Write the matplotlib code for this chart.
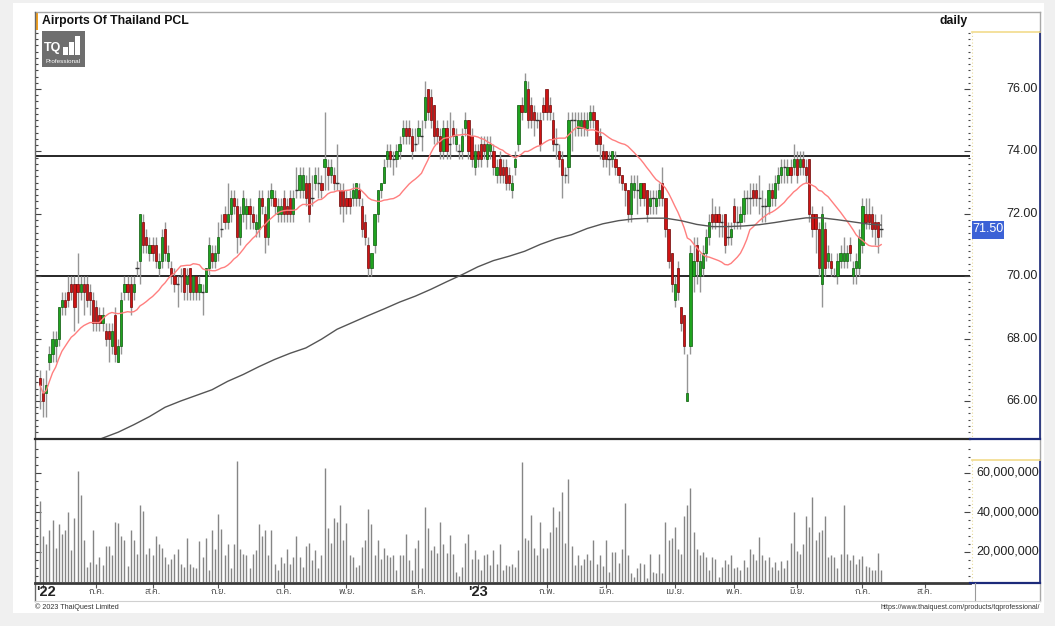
import numpy as np
import pandas as pd
import matplotlib
matplotlib.use("Agg")
import matplotlib.pyplot as plt
from matplotlib import font_manager
from matplotlib.ft2font import FT2Font
from matplotlib.patches import Rectangle
from matplotlib.lines import Line2D
from matplotlib.transforms import blended_transform_factory

# ---------------- data ----------------
title = "Airports Of Thailand PCL"
interval = "daily"
last_price = 71.50
support_level = 70.00
resistance_level = 73.85

opens = [
66.75,66.25,66.25,67.25,67.5,67.75,68.0,69.0,69.25,69.5,
69.75,69.75,69.75,69.5,69.75,69.75,69.5,69.25,69.0,68.75,
68.5,68.25,68.25,67.75,68.75,67.25,67.75,69.5,69.75,69.75,
69.5,70.25,70.5,71.75,71.25,70.75,71.0,71.0,70.25,70.5,
71.5,70.5,70.25,70.0,69.75,70.0,70.25,69.75,70.25,69.5,
70.0,69.5,69.5,69.5,70.25,70.75,70.5,70.75,71.5,72.0,
71.75,72.0,72.5,72.25,71.25,72.0,72.0,72.25,72.0,71.5,
71.5,72.5,72.0,71.25,72.5,72.5,72.0,72.0,72.5,72.25,
72.5,72.0,72.75,72.75,72.75,73.0,73.0,72.5,73.0,73.0,
73.0,73.5,73.5,73.25,73.25,73.0,72.75,72.75,72.5,72.5,
72.5,72.5,72.75,72.25,71.75,71.0,70.25,71.0,72.0,72.75,
73.0,73.75,74.0,73.75,73.75,74.0,74.5,74.75,74.75,74.5,
74.25,74.5,74.5,75.0,76.0,75.75,75.5,74.75,74.5,74.0,
74.75,74.25,74.75,74.25,74.0,74.0,74.75,75.0,74.5,73.5,
74.0,74.25,74.25,73.75,74.0,74.0,73.25,73.75,73.5,73.5,
73.25,72.75,73.5,74.25,75.5,75.25,76.0,75.5,75.25,75.0,
75.0,75.5,76.0,75.5,75.0,74.25,74.0,73.75,73.25,73.5,
75.0,75.0,74.75,74.75,75.0,74.75,75.0,75.25,75.0,74.5,
74.0,74.0,73.75,73.75,73.75,73.5,73.25,73.0,72.75,72.0,
72.75,72.75,72.5,73.0,72.75,72.25,72.5,72.25,72.5,73.0,
72.5,71.5,70.75,69.25,70.25,69.0,68.75,66.0,67.75,70.0,
71.0,70.0,70.25,70.75,71.25,72.0,72.0,72.0,71.75,72.0,
71.25,71.25,72.25,71.75,71.75,72.0,72.5,72.5,72.75,72.75,
72.5,72.25,72.25,72.25,72.75,72.5,73.0,73.25,73.5,73.25,
73.5,73.5,73.75,73.5,73.75,73.5,73.75,72.0,72.0,71.5,
69.75,71.5,70.5,70.5,70.0,70.0,70.5,70.5,70.5,71.0,
70.0,70.25,70.25,71.0,72.0,72.0,72.0,71.75,71.75,71.5]

closes = [
66.5,66.0,66.5,67.5,68.0,68.0,69.0,69.25,69.0,69.25,
69.5,69.0,69.5,69.75,69.5,69.25,69.25,68.5,68.5,68.5,
68.75,68.0,68.0,68.25,67.5,67.75,69.25,69.75,69.5,69.0,
69.75,70.25,72.0,71.0,71.0,71.0,70.75,70.5,70.5,71.25,
70.75,70.75,70.0,69.75,69.75,70.0,69.5,70.0,69.5,70.0,
69.5,69.75,69.5,70.25,71.0,70.5,70.75,71.25,71.5,71.75,
72.0,72.5,72.25,71.25,72.0,72.5,72.25,72.0,71.75,71.75,
72.5,72.25,71.25,72.5,72.75,72.25,72.25,72.25,72.0,72.0,
72.0,72.5,72.75,73.25,73.25,72.5,72.0,72.5,73.25,73.0,
72.75,73.75,73.25,73.5,73.0,73.0,72.25,72.25,72.25,72.25,
72.75,73.0,72.5,71.5,71.25,70.25,70.75,72.0,72.75,73.0,
73.5,74.0,73.75,73.75,74.0,74.25,74.75,74.5,74.5,74.0,
74.25,74.75,74.5,75.75,75.25,75.0,74.5,74.5,74.0,74.75,
74.0,74.25,74.5,74.5,74.0,74.5,75.0,74.0,73.75,74.0,
73.75,73.75,74.0,74.25,74.25,73.5,73.5,73.25,73.25,73.0,
73.0,73.0,73.75,75.5,75.25,76.25,75.0,75.0,75.0,75.0,
74.25,75.25,75.25,75.25,74.25,74.25,73.75,73.25,73.25,75.0,
75.0,75.0,75.0,75.0,74.75,75.0,75.25,75.0,74.25,74.25,
73.75,73.75,73.75,74.0,73.5,73.25,73.0,72.75,72.0,73.0,
73.0,72.75,73.0,72.5,72.0,72.5,72.5,72.5,72.75,72.5,
71.5,70.5,69.75,69.75,69.5,68.5,67.75,66.25,70.75,70.5,
70.5,70.5,70.75,71.25,71.75,71.75,71.75,71.75,71.75,71.0,
71.25,71.5,71.75,71.75,72.0,72.5,72.5,72.5,72.5,72.5,
72.5,72.25,72.25,72.75,72.5,73.0,73.25,73.5,73.5,73.5,
73.25,73.75,73.25,73.75,73.5,73.25,72.0,71.5,71.5,70.25,
72.0,70.25,70.75,70.25,70.0,70.5,70.75,70.75,70.75,70.75,
70.25,70.5,71.25,72.25,71.75,71.75,71.5,71.5,71.25,71.5]

highs = [
67.0,66.75,67.0,67.75,68.25,68.25,69.0,69.5,69.5,70.0,
70.0,70.0,70.75,70.0,70.0,70.0,69.75,69.5,69.25,69.0,
69.0,68.5,68.5,68.5,69.0,68.0,69.5,70.0,70.0,70.0,
70.0,70.5,72.0,72.0,71.5,71.25,71.25,71.25,70.75,71.5,
71.75,71.0,70.5,70.25,70.0,70.25,70.25,70.25,70.25,70.0,
70.0,70.0,69.75,70.25,71.25,71.0,71.0,71.75,72.0,72.25,
73.0,72.75,72.75,72.5,72.25,72.75,72.5,72.5,72.25,72.0,
72.75,72.75,72.25,72.75,73.0,72.75,72.5,72.5,72.75,72.5,
72.75,72.75,73.5,73.5,73.5,73.25,73.5,73.25,73.5,73.5,
73.25,75.25,73.75,73.75,73.5,74.25,73.0,73.0,72.75,72.75,
73.0,73.0,73.0,72.5,72.0,71.25,70.75,72.0,72.75,73.0,
73.75,74.25,74.25,74.0,74.25,74.5,75.0,75.0,75.0,74.75,
74.75,75.0,75.0,76.25,76.0,76.0,75.5,75.0,74.75,75.0,
75.0,75.25,75.0,74.75,74.25,74.75,75.25,75.0,74.75,74.25,
74.25,74.5,74.5,74.5,74.5,74.25,73.75,74.0,73.75,73.75,
73.5,73.25,74.0,75.5,75.75,76.5,76.25,75.75,75.5,75.25,
75.25,75.75,76.0,75.75,75.25,74.75,74.25,74.0,73.5,75.25,
75.25,75.25,75.25,75.25,75.25,75.25,75.5,75.5,75.0,74.75,
74.25,74.0,74.0,74.0,74.0,73.5,73.25,73.0,72.75,73.25,
73.25,73.25,73.0,73.0,72.75,72.75,72.75,72.75,73.0,73.5,
72.5,71.5,70.75,70.0,70.5,69.0,68.75,67.5,71.0,71.25,
71.25,70.75,71.0,71.5,72.0,72.5,72.25,72.25,72.0,72.0,
71.75,71.75,72.5,72.25,72.25,72.75,72.75,73.0,73.0,73.0,
73.25,72.75,72.5,73.0,73.0,73.25,73.5,73.75,73.75,73.75,
73.75,74.25,74.0,74.0,74.0,73.75,73.75,72.25,72.0,71.75,
72.25,71.75,71.0,70.75,70.25,70.75,71.0,71.25,71.0,71.25,
70.5,70.75,71.5,72.5,72.5,72.5,72.25,72.0,71.75,72.0]

lows = [
65.75,65.5,65.5,67.0,67.25,67.25,67.75,68.75,68.75,69.0,
69.25,68.25,68.5,69.25,68.75,69.0,68.75,68.25,68.25,68.25,
68.25,67.75,67.25,67.5,67.25,67.25,67.5,69.25,69.25,68.75,
69.25,70.0,69.75,70.75,70.75,70.5,70.5,70.25,70.0,70.25,
70.5,70.25,69.75,69.5,69.0,69.5,69.25,69.25,69.25,69.25,
69.25,69.25,68.75,69.5,70.0,70.25,70.25,70.5,71.25,71.5,
71.5,71.75,72.0,70.75,71.0,71.75,71.5,71.5,71.5,71.25,
71.25,72.0,70.75,71.0,72.25,72.0,71.75,71.75,71.75,71.75,
71.75,71.75,72.5,72.5,72.5,72.25,71.75,72.25,72.75,72.5,
72.5,72.75,72.75,73.0,72.75,72.75,72.0,71.75,72.0,72.0,
72.25,72.25,72.25,71.25,71.0,70.0,70.0,70.75,71.75,72.5,
73.0,73.5,73.5,73.25,73.5,73.75,74.25,74.25,74.25,73.75,
74.0,74.25,74.0,74.75,75.0,74.75,74.25,74.25,73.75,73.75,
73.75,73.75,74.25,74.0,73.75,73.75,74.5,73.75,73.5,73.25,
73.5,73.5,73.75,73.5,73.75,73.25,73.0,73.0,73.0,72.75,
72.75,72.5,73.25,74.0,75.0,75.25,74.75,74.75,74.5,74.75,
74.0,75.0,75.0,75.0,74.0,73.75,73.5,72.5,73.0,73.0,
74.0,74.5,74.5,74.5,74.5,74.5,74.75,74.75,74.0,73.75,
73.5,73.5,73.25,73.5,73.25,73.0,72.75,72.25,71.75,71.75,
72.5,72.0,72.25,72.25,71.75,72.0,72.0,72.0,72.25,72.25,
71.25,70.25,69.5,69.0,69.25,68.25,67.5,66.0,67.5,69.5,
69.75,69.5,70.0,70.5,71.0,71.5,71.5,71.25,71.25,70.75,
71.0,71.0,71.5,71.5,71.5,71.75,72.0,72.0,72.25,72.25,
72.0,71.75,71.75,72.0,72.25,72.25,72.75,73.0,73.0,73.0,
73.0,73.25,73.0,73.25,73.25,73.0,71.75,71.25,70.75,70.0,
69.0,70.0,70.25,70.0,70.0,69.75,70.25,70.25,70.25,70.5,
69.75,69.75,70.0,70.75,71.5,71.5,71.25,71.0,70.75,71.25]

# volume, millions of shares
volume_m = [
46,28,24,31,36,22,34,29,31,40,
21,37,61,49,26,12.6,15,31,14,17.6,
13.4,23,23,18.5,35,34.5,28,26,13,31,
26,19,44,41,19,22,18.5,28,24,22,
17.6,14,16.5,19,21.5,14,12.6,27,14,12.2,
11.7,25.6,17.6,27,10.9,31,21.5,39,31.5,18.5,
24,11.7,24,66,21.5,19,18.5,11.7,19,21,
34,28,31,18.5,31,14,10.9,17.6,14.5,21.5,
13.8,17.6,28,17.6,12.6,23,24.8,15.9,21,11.7,
18.5,62.7,32,24.8,37,35,44,26,34.5,18.5,
17.6,12.6,13.4,22.5,26,42,34,18.5,26.3,16.5,
22,18.5,17.6,18.5,10.9,18.5,18.5,29,15.9,10.9,
22,26,11.7,43,32,21,23,19.5,35,24,
19.5,28.5,19,10,8,12.6,24.8,29,16.5,21,
16.5,10.9,18.5,19,13.4,21,13.8,24,10.9,13.4,
13,13.8,12.6,21,65.6,27,26,38.6,22,18.5,
35,22,22,30,43,32.5,40.7,50.5,24.8,56.8,
23,13.4,18.5,13.4,16.5,19,15.9,26,14,18.5,
13,26,10,20.2,20.2,14.5,21.5,45,18.5,9.2,
7.5,11.7,14.5,14,6.7,19,10,9.2,19,9.2,
35,26,27,32.6,21.5,19,38,44,52.6,30,
21.5,18.5,20.2,17.6,10.9,17.6,16.5,7.5,12.6,15.9,
13.8,18.5,11.7,12.6,10.9,15.9,12.6,21.5,19,15.9,
27.5,18.5,15.9,17.3,12.6,15,10.9,15.5,11.7,15.9,
24.8,40,20.7,19,24,38,32.5,48,26,30,
31,38,17.6,18.5,17.6,11.7,19,44,19,15.9,
18.5,13.8,16.5,18,13,12.6,10.9,10.9,19.5,10.9]

# 200-day moving average (needs history before the window): read at sample bars
ma200_bars = [15,20,25,30,35,40,45,50,55,60,65,70,75,80,85,90,95,100,105,110,
              115,120,125,130,135,140,145,150,155,160,165,170,175,180,185,190,
              195,200,205,210,215,220,225,230,235,240,245,250,255,260,265,269]
ma200_vals = [64.6,64.81,65.0,65.24,65.5,65.8,66.0,66.18,66.36,66.63,66.85,67.1,
              67.33,67.53,67.7,67.98,68.3,68.52,68.74,68.95,69.17,69.36,69.58,
              69.82,70.05,70.3,70.5,70.64,70.8,71.02,71.2,71.33,71.53,71.68,71.78,
              71.84,71.86,71.86,71.78,71.66,71.59,71.59,71.61,71.65,71.72,71.8,
              71.87,71.87,71.81,71.74,71.67,71.64]
ma_short_period = 20

# month ticks (bar index of label) and labels
month_ticks = [1, 18, 36, 57, 78, 98, 121, 140, 162, 181, 203, 222, 242, 263, 283]
month_labels = ["'22", "ก.ค.", "ส.ค.", "ก.ย.", "ต.ค.", "พ.ย.", "ธ.ค.", "'23",
                "ก.พ.", "มี.ค.", "เม.ย.", "พ.ค.", "มิ.ย.", "ก.ค.", "ส.ค."]
price_ticks = [66, 68, 70, 72, 74, 76]
volume_ticks = [20e6, 40e6, 60e6]

# ---------------- fonts ----------------
BASE = "Liberation Sans"
thai_family = None
cands = sorted(font_manager.fontManager.ttflist,
               key=lambda f: (0 if "thai" in f.name.lower() else 1, f.name))
for f in cands:
    try:
        cm = FT2Font(f.fname).get_charmap()
        if 0x0E01 in cm and 0x0E04 in cm and 0x0E21 in cm:
            thai_family = f.name
            break
    except Exception:
        pass
thai_fams = ([thai_family] if thai_family else []) + [BASE, "DejaVu Sans"]

# ---------------- figure ----------------
W, H = 1055, 626
fig = plt.figure(figsize=(W / 100, H / 100), dpi=100, facecolor="#f0f0f0")


def fx(px):
    return px / W


def fy(py):
    return 1 - py / H


def fline(x0, y0, x1, y1, **kw):
    fig.add_artist(Line2D([fx(x0), fx(x1)], [fy(y0), fy(y1)],
                          transform=fig.transFigure, **kw))


fig.add_artist(Rectangle((fx(13), fy(613)), fx(1044) - fx(13), fy(3) - fy(613),
                         transform=fig.transFigure, facecolor="white",
                         edgecolor="none", zorder=-5))

LEFT, RIGHT = 35, 970
axp = fig.add_axes([fx(LEFT), fy(438), fx(RIGHT) - fx(LEFT), fy(12) - fy(438)])
axv = fig.add_axes([fx(LEFT), fy(582), fx(RIGHT) - fx(LEFT), fy(441) - fy(582)])

n = len(closes)
x = np.arange(n)
o = np.array(opens)
c = np.array(closes)
h = np.array(highs)
l = np.array(lows)
X0 = -1.6
X1 = 297.4

# ---- price panel ----
axp.vlines(x, l, h, color="#959595", lw=1.0, zorder=2)
bw = 0.72
up = c > o
dn = c < o
eq = c == o
axp.bar(x[up], (c - o)[up], bottom=o[up], width=bw, color="#1fa31f",
        edgecolor="#0c5a0c", lw=0.5, zorder=3)
axp.bar(x[dn], (o - c)[dn], bottom=c[dn], width=bw, color="#cf1414",
        edgecolor="#700808", lw=0.5, zorder=3)
axp.hlines(c[eq], x[eq] - 0.55, x[eq] + 0.55, color="#333333", lw=1.0, zorder=3)

ma_short = pd.Series(closes).rolling(ma_short_period, min_periods=1).mean()
axp.plot(x, ma_short, color="#ff7f7f", lw=1.0, zorder=4)
axp.plot(ma200_bars, ma200_vals, color="#555555", lw=1.0, zorder=4)

axp.axhline(resistance_level, color="#262626", lw=1.4, zorder=1)
axp.axhline(support_level, color="#262626", lw=1.4, zorder=1)

axp.set_xlim(X0, X1)
axp.set_ylim(64.814, 78.468)
for s in axp.spines.values():
    s.set_visible(False)
axp.set_xticks([])
axp.set_yticks(price_ticks)
axp.set_yticks(np.arange(65.0, 77.81, 0.2), minor=True)
axp.tick_params(axis="y", which="both", left=True, right=True, labelleft=False,
                labelright=False, direction="in", color="#444444", width=0.8)
axp.tick_params(axis="y", which="major", length=4)
axp.tick_params(axis="y", which="minor", length=1.8)

tr_p = blended_transform_factory(fig.transFigure, axp.transData)
for t in price_ticks:
    axp.text(fx(1038), t, f"{t:.2f}", transform=tr_p, ha="right", va="center",
             fontsize=9, family=BASE, color="#222222")

# last price tag (drawn at figure level above the axes)
fig.add_artist(Rectangle((fx(972), fy(238.5)), fx(1004) - fx(972), fy(221.5) - fy(238.5),
                         transform=fig.transFigure, facecolor="#3c62d6",
                         edgecolor="none", zorder=5))
fig.text(fx(988), 0, f"{last_price:.2f}", transform=tr_p, ha="center",
         va="center", fontsize=9, family=BASE, color="white", zorder=6)
fig.texts[-1].set_position((fx(988), last_price))

# ---- volume panel ----
vol = np.array(volume_m) * 1e6
axv.vlines(x, 0, vol, color="#858585", lw=1.0)
axv.set_xlim(X0, X1)
axv.set_ylim(4.81e6, 76.2e6)
for s in axv.spines.values():
    s.set_visible(False)
axv.set_yticks(volume_ticks)
axv.set_yticks(np.arange(8e6, 76e6, 4e6), minor=True)
axv.tick_params(axis="y", which="both", left=True, right=True, labelleft=False,
                labelright=False, direction="in", color="#444444", width=0.8)
axv.tick_params(axis="y", which="major", length=4)
axv.tick_params(axis="y", which="minor", length=1.8)
axv.set_xticks(month_ticks)
axv.tick_params(axis="x", which="major", bottom=True, direction="out", length=4,
                color="#555555", labelbottom=False)
tr_v = blended_transform_factory(fig.transFigure, axv.transData)
for t in volume_ticks:
    axv.text(fx(1039), t, f"{int(t):,}", transform=tr_v, ha="right", va="center",
             fontsize=9, family=BASE, color="#222222")

tr_d = blended_transform_factory(axv.transData, fig.transFigure)
for k, (pos, lab) in enumerate(zip(month_ticks, month_labels)):
    if lab.startswith("'"):
        if k == 0:
            axv.text(X0 + 0.3, fy(592), lab, transform=tr_d, ha="left", va="center",
                     fontsize=10.5, fontweight="bold", family=BASE, color="#222222",
                     clip_on=False)
        else:
            axv.text(pos, fy(592), lab, transform=tr_d, ha="center", va="center",
                     fontsize=10.5, fontweight="bold", family=BASE, color="#222222",
                     clip_on=False)
    else:
        axv.text(pos, fy(592), lab, transform=tr_d, ha="center", va="center",
                 fontsize=6.5, family=thai_fams, color="#333333", clip_on=False)

# ---- frame lines ----
fline(35, 12, 1040, 12, color="#a8a8a8", lw=1)
fline(35, 12, 35, 601, color="#666666", lw=1)
fline(1040, 12, 1040, 601, color="#a8a8a8", lw=1)
fline(35, 438.5, 970, 438.5, color="#2b2b2b", lw=1.6)
fline(970, 438.5, 1040, 438.5, color="#1c2a7a", lw=1.6)
fline(35, 582.5, 970, 582.5, color="#3a3a3a", lw=2.0)
fline(970, 582.5, 1040, 582.5, color="#1c2a7a", lw=1.6)
fline(1040, 32, 1040, 438, color="#1c2a7a", lw=1.2)
fline(1040, 460, 1040, 582, color="#1c2a7a", lw=1.2)
fline(972, 32, 1040, 32, color="#f2dc8c", lw=1.2)
fline(972, 460, 1040, 460, color="#f2dc8c", lw=1.2)
fline(972, 32, 972, 438, color="#eadc9c", lw=0.8, ls=(0, (1, 2)))
fline(972, 460, 972, 582, color="#eadc9c", lw=0.8, ls=(0, (1, 2)))
fline(975, 583, 975, 601, color="#9a9a9a", lw=0.8)
fline(35, 601, 1040, 601, color="#d0d0d0", lw=0.8)

# orange marker by title
fig.add_artist(Rectangle((fx(35), fy(30)), fx(3) - fx(0), fy(12) - fy(30),
                         transform=fig.transFigure, facecolor="#f0a020",
                         edgecolor="none"))
fig.text(fx(42), fy(21), title, fontsize=8.8, fontweight="bold", family=BASE,
         color="#111111", ha="left", va="center")
fig.text(fx(968), fy(21), interval, fontsize=8.8, fontweight="bold", family=BASE,
         color="#111111", ha="right", va="center")

# TQ logo
fig.add_artist(Rectangle((fx(42), fy(67)), fx(85) - fx(42), fy(31) - fy(67),
                         transform=fig.transFigure, facecolor="#6e6e6e",
                         edgecolor="none"))
fig.text(fx(44), fy(48), "TQ", fontsize=9, fontweight="bold", family=BASE,
         color="white", ha="left", va="center")
for bx, btop in [(63, 47), (69, 42), (75, 36)]:
    fig.add_artist(Rectangle((fx(bx), fy(55)), fx(5) - fx(0), fy(btop) - fy(55),
                             transform=fig.transFigure, facecolor="white",
                             edgecolor="none"))
fig.text(fx(63.5), fy(61.5), "Professional", fontsize=4.6, family=BASE,
         color="white", ha="center", va="center")

# footer
fig.text(fx(35), fy(607.5), "© 2023 ThaiQuest Limited", fontsize=5.2, family=BASE,
         color="#333333", ha="left", va="center")
fig.text(fx(1040), fy(607.5), "https://www.thaiquest.com/products/tqprofessional/",
         fontsize=5.0, family=BASE, color="#333333", ha="right", va="center")

fig.savefig("out.png", dpi=100, facecolor=fig.get_facecolor())
